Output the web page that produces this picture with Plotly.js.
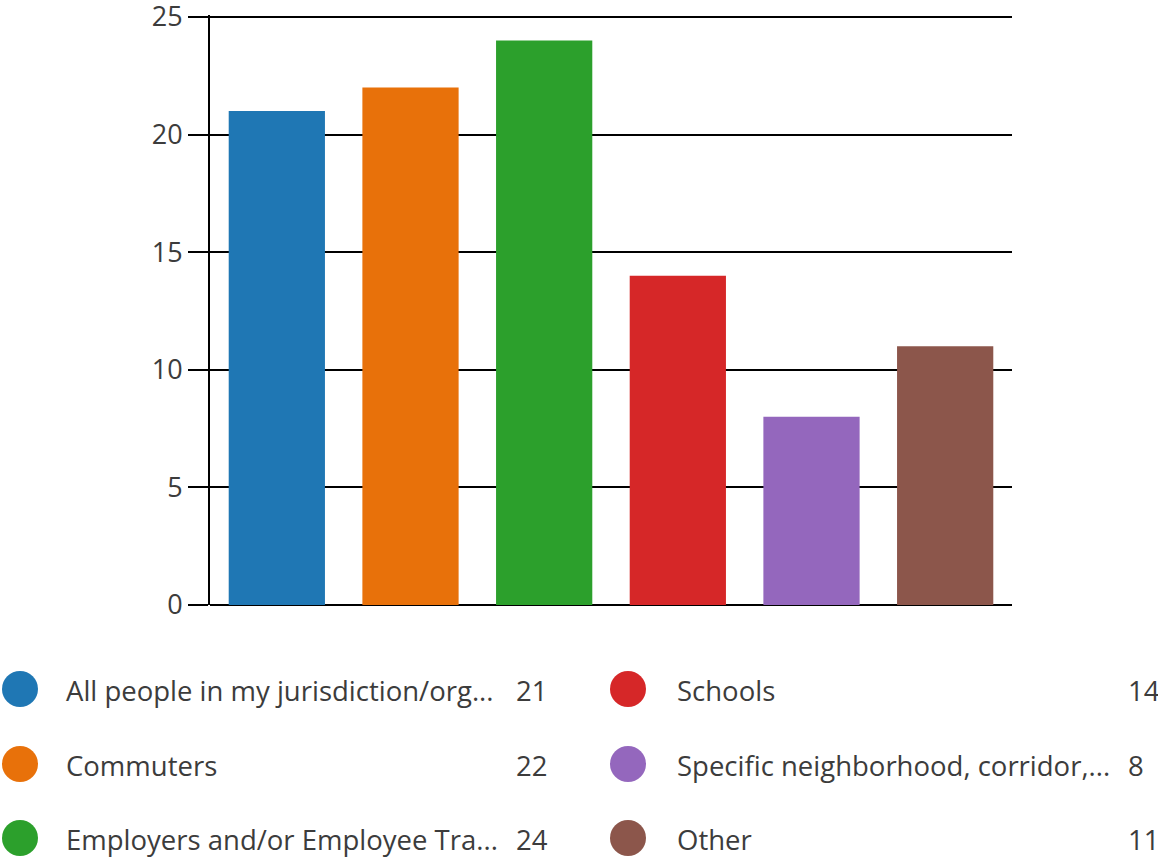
<!DOCTYPE html>
<html><head><meta charset="utf-8">
<script src="https://cdn.plot.ly/plotly-3.0.1.min.js"></script>
<style>html,body{margin:0;padding:0;background:#fff;}#chart{width:1158px;height:861px;}</style>
</head><body><div id="chart"></div>
<script>
const categories = [
  "All people in my jurisdiction/org...",
  "Commuters",
  "Employers and/or Employee Tra...",
  "Schools",
  "Specific neighborhood, corridor,...",
  "Other"
];
const counts = [21, 22, 24, 14, 8, 11];
const colors = ["#1f77b4", "#e8710a", "#2ca02c", "#d62728", "#9467bd", "#8c564b"];
const yTicks = [0, 5, 10, 15, 20, 25];

const W = 1158, H = 861;
const mL = 210, mR = 146, mT = 15, mB = 256;
const pw = W - mL - mR, ph = H - mT - mB;
const pxPerUnit = 588 / 25;
const yTop = ph / pxPerUnit;
const px = x => (x - mL) / pw;
const py = y => (H - mB - y) / ph;

const FONT = "Open Sans, Noto Sans, sans-serif";
const TXT = "#3c3c3c";

const shapes = [], annotations = [];
// legend: two columns of three rows
const rowsY = [690, 765, 839];
const colCircleX = [20, 628];
const colTextX = [64, 675];
const colCountX = [514, 1126];
categories.forEach((c, i) => {
  const col = Math.floor(i / 3), row = i % 3;
  const cy = rowsY[row];
  shapes.push({
    type: "circle", xref: "paper", yref: "paper",
    xsizemode: "pixel", ysizemode: "pixel",
    xanchor: px(colCircleX[col]), yanchor: py(cy - 1),
    x0: -18, x1: 18, y0: -18, y1: 18,
    fillcolor: colors[i], line: {width: 0}
  });
  annotations.push({
    xref: "paper", yref: "paper", x: px(colTextX[col]), y: py(cy),
    xanchor: "left", yanchor: "middle", showarrow: false,
    text: c, font: {family: FONT, size: 27.5, color: TXT}
  });
  annotations.push({
    xref: "paper", yref: "paper", x: px(colCountX[col]), y: py(cy),
    xanchor: "left", yanchor: "middle", showarrow: false,
    text: String(counts[i]), font: {family: FONT, size: 27.5, color: TXT}
  });
});

const trace = {
  type: "bar", x: categories, y: counts,
  marker: {color: colors, line: {width: 0}},
  hoverinfo: "x+y", showlegend: false
};

const layout = {
  width: W, height: H,
  margin: {l: mL, r: mR, t: mT, b: mB, pad: 0},
  paper_bgcolor: "#fff", plot_bgcolor: "#fff",
  bargap: 0.28,
  showlegend: false,
  font: {family: FONT, size: 27, color: TXT},
  xaxis: {showticklabels: false, showgrid: false, zeroline: false, showline: false, ticks: "", fixedrange: true},
  yaxis: {
    range: [0, yTop], tickvals: yTicks, ticktext: yTicks.map(String),
    ticklabeloverflow: "allow",
    showgrid: true, gridcolor: "#000", gridwidth: 2,
    zeroline: true, zerolinecolor: "#000", zerolinewidth: 2,
    showline: true, linecolor: "#000", linewidth: 2,
    ticks: "outside", ticklen: 20, tickwidth: 2, tickcolor: "#000",
    tickfont: {family: FONT, size: 27, color: TXT},
    fixedrange: true
  },
  shapes: shapes, annotations: annotations
};

Plotly.newPlot("chart", [trace], layout, {displayModeBar: false, staticPlot: true});
</script>
</body></html>
